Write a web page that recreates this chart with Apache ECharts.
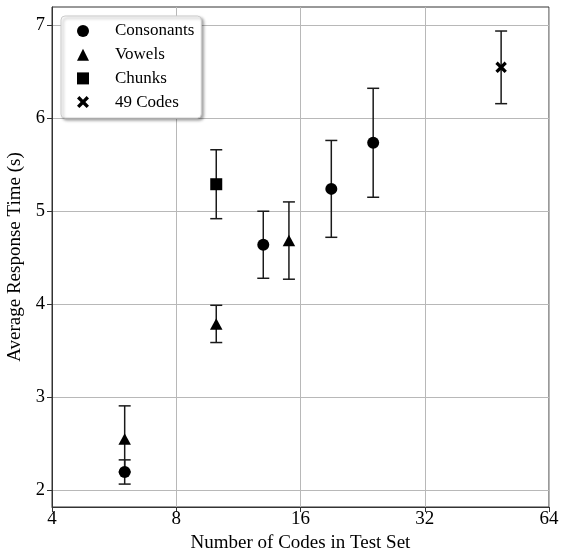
<!DOCTYPE html>
<html>
<head>
<meta charset="utf-8">
<script src="https://cdn.jsdelivr.net/npm/echarts@6/dist/echarts.min.js"></script>
<style>html,body{margin:0;padding:0;background:#fff}#c{width:567px;height:549px}</style>
</head>
<body>
<div id="c"></div>
<script>
// ---- data ----
const consX = [6, 13, 19, 24];
const consY = [2.2, 4.64, 5.24, 5.735];
const consErr = [0.13, 0.36, 0.52, 0.585];
const vowX = [6, 10, 15];
const vowY = [2.555, 3.79, 4.685];
const vowErr = [0.355, 0.2, 0.415];
const chunkX = [10];
const chunkY = [5.29];
const chunkErr = [0.37];
const codesX = [49];
const codesY = [6.545];
const codesErr = [0.39];
const xTicks = [4, 8, 16, 32, 64];
const yTicks = [2, 3, 4, 5, 6, 7];
const names = ['Consonants', 'Vowels', 'Chunks', '49 Codes'];

const FONT = "'Liberation Serif', 'Times New Roman', 'DejaVu Serif', serif";
const xPath = 'path://M2,0 L5,3 L8,0 L10,2 L7,5 L10,8 L8,10 L5,7 L2,10 L0,8 L3,5 L0,2 Z';
const symbols = ['circle', 'triangle', 'rect', xPath];
const sizes = [12, [12.5, 11.5], 12, 11.5];

const groups = [
  [consX, consY, consErr],
  [vowX, vowY, vowErr],
  [chunkX, chunkY, chunkErr],
  [codesX, codesY, codesErr]
];

const series = [];
groups.forEach((g, gi) => {
  const pts = g[0].map((x, i) => [x, g[1][i], g[2][i]]);
  series.push({
    type: 'custom',
    name: names[gi] + ' err',
    z: 2,
    silent: true,
    data: pts,
    renderItem: function (params, api) {
      const x = api.value(0), y = api.value(1), e = api.value(2);
      const top = api.coord([x, y + e]);
      const bot = api.coord([x, y - e]);
      const hw = 6;
      const st = { stroke: '#1a1a1a', lineWidth: 1.5 };
      return {
        type: 'group',
        children: [
          { type: 'line', shape: { x1: top[0], y1: top[1], x2: bot[0], y2: bot[1] }, style: st },
          { type: 'line', shape: { x1: top[0] - hw, y1: top[1], x2: top[0] + hw, y2: top[1] }, style: st },
          { type: 'line', shape: { x1: bot[0] - hw, y1: bot[1], x2: bot[0] + hw, y2: bot[1] }, style: st }
        ]
      };
    }
  });
  series.push({
    type: 'scatter',
    name: names[gi],
    z: 3,
    symbol: symbols[gi],
    symbolSize: sizes[gi],
    itemStyle: { color: '#000', opacity: 1 },
    data: pts.map(p => [p[0], p[1]])
  });
});

const chart = echarts.init(document.getElementById('c'), null, { renderer: 'canvas' });
chart.setOption({
  animation: false,
  backgroundColor: '#fff',
  textStyle: { fontFamily: FONT },
  grid: { left: 52, right: 18, top: 7, bottom: 42, outerBoundsMode: 'none', containLabel: false, show: true, borderColor: '#333', borderWidth: 1, backgroundColor: 'transparent' },
  legend: {
    left: 61, top: 16, orient: 'vertical',
    data: names.map((n, i) => ({ name: n, icon: symbols[i] })),
    itemWidth: 12, itemHeight: 12, itemGap: 5.7,
    padding: [6, 7, 7, 16],
    backgroundColor: '#fff',
    borderColor: '#cccccc', borderWidth: 1, borderRadius: 4,
    shadowColor: 'rgba(0,0,0,0.35)', shadowBlur: 3, shadowOffsetX: 2, shadowOffsetY: 2,
    itemStyle: { color: '#000', opacity: 1 },
    textStyle: { fontFamily: FONT, fontSize: 17, color: '#000', lineHeight: 18, padding: [0, 0, 0, 21] },
    selectedMode: false
  },
  xAxis: {
    type: 'log', logBase: 2, min: 4, max: 64,
    name: 'Number of Codes in Test Set', nameLocation: 'middle', nameGap: 23,
    nameTextStyle: { fontFamily: FONT, fontSize: 19, color: '#000' },
    axisLine: { show: true, lineStyle: { color: '#333', width: 1 } },
    axisTick: { show: true, length: 5, lineStyle: { color: '#333' }, customValues: xTicks },
    axisLabel: { fontFamily: FONT, fontSize: 19, color: '#000', margin: 3, customValues: xTicks, formatter: v => String(Math.round(v)) },
    splitLine: { show: true, lineStyle: { color: '#b8b8b8', width: 1 } },
    minorTick: { show: false }
  },
  yAxis: {
    type: 'value', min: 1.824, max: 7.193,
    name: 'Average Response Time (s)', nameLocation: 'middle', nameGap: 19,
    nameTextStyle: { fontFamily: FONT, fontSize: 19, color: '#000' },
    axisLine: { show: true, lineStyle: { color: '#333', width: 1 } },
    axisTick: { show: true, length: 5, lineStyle: { color: '#333' }, customValues: yTicks },
    axisLabel: { fontFamily: FONT, fontSize: 18.5, color: '#000', margin: 7, customValues: yTicks },
    splitLine: { show: true, lineStyle: { color: '#b8b8b8', width: 1 } }
  },
  series: series
});
</script>
</body>
</html>
